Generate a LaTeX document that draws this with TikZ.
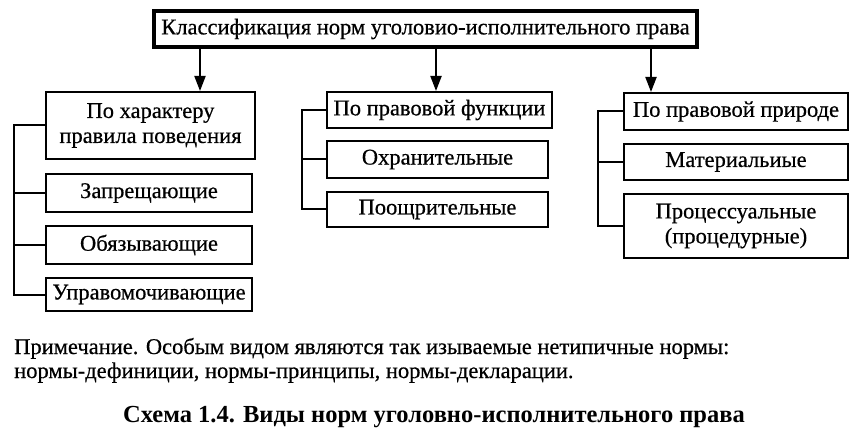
\documentclass[tikz,border=0pt]{standalone}
\usepackage{fontspec}
\setmainfont{Liberation Serif}
\newfontfamily\scanfont{Liberation Serif}[FakeBold=0.5]
\usetikzlibrary{arrows.meta}
\begin{document}
\begin{tikzpicture}[x=1pt,y=-1pt,
  box/.style={draw, line width=2pt, rectangle, inner sep=0pt, align=center,
    font=\scanfont\fontsize{22.5}{25}\selectfont},
  topbox/.style={box, line width=3.2pt},
  arr/.style={line width=2pt, -{Triangle[width=11pt,length=15pt]}},
  brk/.style={line width=2pt},
  notetext/.style={inner sep=0pt, anchor=base west, font=\scanfont\fontsize{22.5}{25}\selectfont},
  captext/.style={inner sep=0pt, anchor=base, font=\fontsize{24.5}{28}\selectfont\bfseries}]
\useasboundingbox (0,0) rectangle (866,438);
\fill[white] (0,0) rectangle (866,438);
% boxes: center = ((x1+x2)/2,(y1+y2)/2), size = (x2-x1, y2-y1)
\node[topbox, minimum width=543pt, minimum height=36pt] (top) at (425.5,29) {Классификация норм уголовио-исполнительного права};
\node[box, minimum width=209pt, minimum height=67pt] (L1) at (150.5,125.5) {По характеру\\правила поведения};
\node[box, minimum width=206pt, minimum height=38pt] (L2) at (149,193) {Запрещающие};
\node[box, minimum width=206pt, minimum height=38pt] (L3) at (149,245) {Обязывающие};
\node[box, minimum width=206pt, minimum height=33pt] (L4) at (149,294.5) {Управомочивающие};
\node[box, minimum width=225pt, minimum height=36pt] (M1) at (439.5,110) {По правовой функции};
\node[box, minimum width=221pt, minimum height=37pt] (M2) at (437.5,159.5) {Охранительные};
\node[box, minimum width=221pt, minimum height=35pt] (M3) at (437.5,209.5) {Поощрительные};
\node[box, minimum width=224pt, minimum height=37pt] (R1) at (736,111.5) {По правовой природе};
\node[box, minimum width=224pt, minimum height=36pt] (R2) at (736,162) {Материальиые};
\node[box, minimum width=224pt, minimum height=64pt] (R3) at (736,226) {Процессуальные\\(процедурные)};
% arrows
\coordinate (a1) at (200,47);
\coordinate (a2) at (436,47);
\coordinate (a3) at (651,47);
\draw[arr] (a1) -- (a1 |- L1.north);
\draw[arr] (a2) -- (a2 |- M1.north);
\draw[arr] (a3) -- (a3 |- R1.north);
% brackets
\coordinate (bl) at (14,0);
\coordinate (bm) at (302,0);
\coordinate (br) at (598,0);
\draw[brk] (L1.west) -- (bl |- L1.west) -- (bl |- L4.west) -- (L4.west);
\draw[brk] (bl |- L2.west) -- (L2.west);
\draw[brk] (bl |- L3.west) -- (L3.west);
\draw[brk] (M1.west) -- (bm |- M1.west) -- (bm |- M3.west) -- (M3.west);
\draw[brk] (bm |- M2.west) -- (M2.west);
\draw[brk] (R1.west) -- (br |- R1.west) -- (br |- R3.west) -- (R3.west);
\draw[brk] (br |- R2.west) -- (R2.west);
% note and caption
\node[notetext] (n1) at (14,354) {Примечание. Особым видом являются так изываемые нетипичные нормы:};
\node[notetext] (n2) at (14,378) {нормы-дефиниции, нормы-принципы, нормы-декларации.};
\node[captext] (cap) at (434,422) {Схема 1.4. Виды норм уголовно-исполнительного права};
\end{tikzpicture}
\end{document}
